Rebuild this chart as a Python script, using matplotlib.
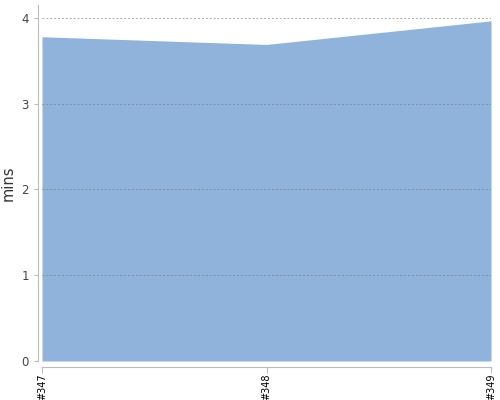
import matplotlib
matplotlib.use("Agg")
import matplotlib.pyplot as plt

builds = ["#347", "#348", "#349"]
mins = [3.78, 3.69, 3.965]

fig = plt.figure(figsize=(5, 4), dpi=100)
ax = fig.add_axes([0.084, 0.0975, 0.898, 0.89])

x = list(range(len(builds)))
ax.fill_between(x, mins, 0, color="#8fb3da", linewidth=0)
ax.set_xlim(0, len(builds) - 1)
ax.set_ylim(0, 4.15)

ax.set_yticks([0, 1, 2, 3, 4])
ax.yaxis.grid(True, linestyle=(0, (2, 2)), color="#777777", alpha=0.6, linewidth=0.7)
ax.set_axisbelow(False)

ax.set_xticks(x)
ax.set_xticklabels(builds)
ax.tick_params(axis="y", labelsize=8.5, labelcolor="#444444", color="#bbbbbb", length=3)
ax.tick_params(axis="x", color="#bbbbbb", length=4, pad=1,
               labelrotation=90, labelsize=7, labelcolor="black")

for s in ["top", "right"]:
    ax.spines[s].set_visible(False)
ax.spines["left"].set_color("#bbbbbb")
ax.spines["bottom"].set_color("#bbbbbb")
ax.spines["left"].set_position(("outward", 3))
ax.spines["bottom"].set_position(("outward", 4))

ax.set_ylabel("mins", fontsize=10.5, color="#333333", labelpad=4)

fig.savefig("out.png", dpi=100)
